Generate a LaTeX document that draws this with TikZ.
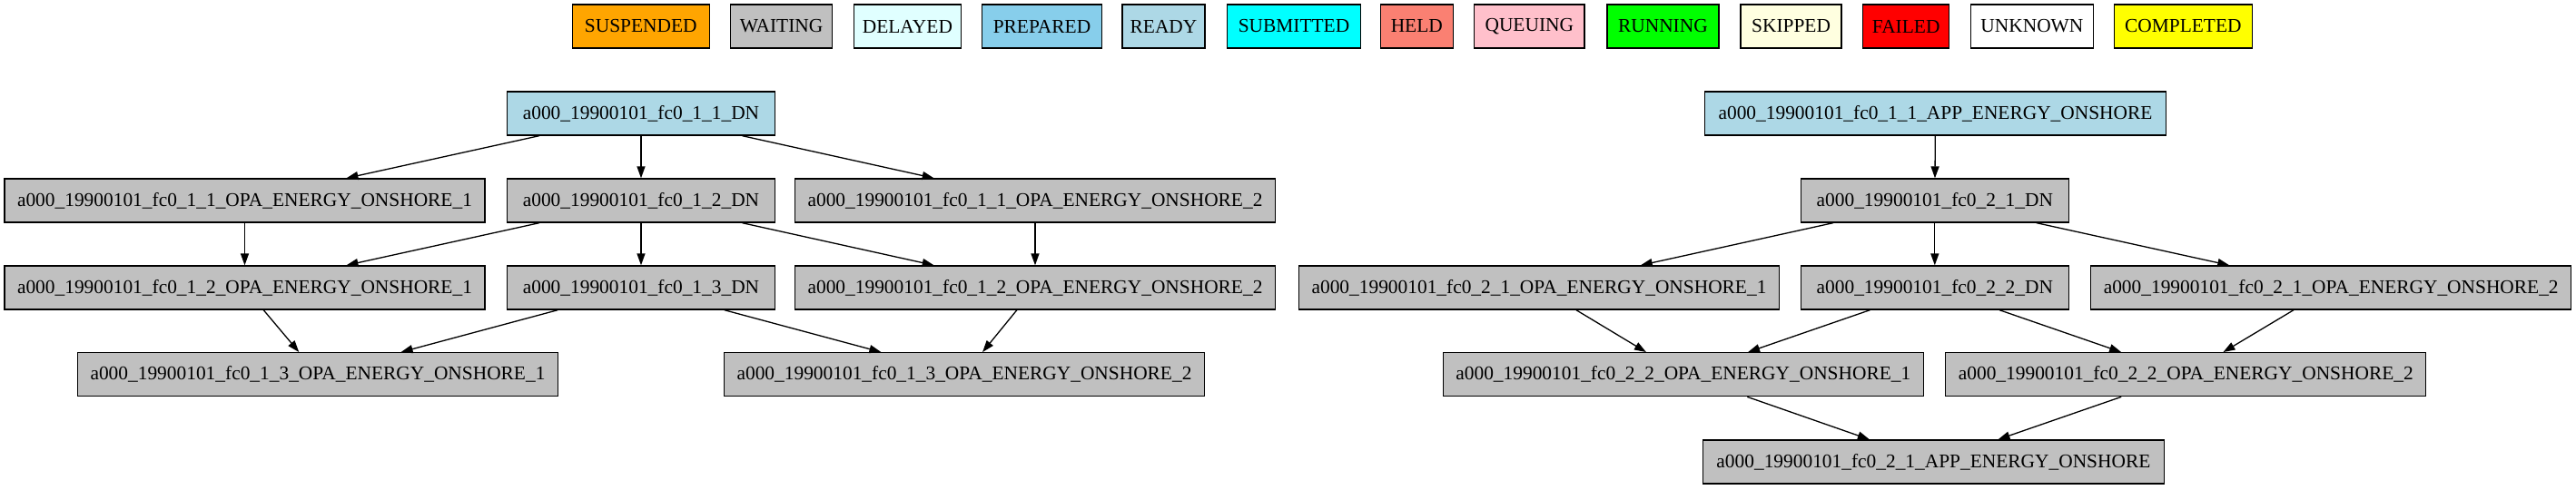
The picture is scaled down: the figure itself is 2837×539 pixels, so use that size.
\documentclass[tikz,border=0pt]{standalone}
\usepackage{fontspec}
\setmainfont{Liberation Serif}
\usetikzlibrary{arrows.meta}
\definecolor{cSusp}{HTML}{FFA500}
\definecolor{cWait}{HTML}{C0C0C0}
\definecolor{cDelay}{HTML}{E0FFFF}
\definecolor{cPrep}{HTML}{87CEEB}
\definecolor{cReady}{HTML}{ADD8E6}
\definecolor{cSubm}{HTML}{00FFFF}
\definecolor{cHeld}{HTML}{FA8072}
\definecolor{cQueue}{HTML}{FFC0CB}
\definecolor{cRun}{HTML}{00FF00}
\definecolor{cSkip}{HTML}{FFFFE0}
\definecolor{cFail}{HTML}{FF0000}
\definecolor{cUnk}{HTML}{FFFFFF}
\definecolor{cComp}{HTML}{FFFF00}
\begin{document}
\begin{tikzpicture}[x=1pt,y=-1pt,
  box/.style={draw=black,line width=1.3pt,rectangle,minimum height=48pt,inner xsep=4pt,inner ysep=0pt,
    font=\fontsize{21.4}{25}\selectfont,anchor=center},
  legbox/.style={box,minimum width=#1},
  dnbox/.style={box,minimum width=295pt},
  opabox/.style={box,minimum width=529pt},
  appbox/.style={box,minimum width=508pt},
  edge/.style={line width=1.3pt,-{Triangle[length=13pt,width=9pt]}}]
\useasboundingbox (0,0) rectangle (2837,539);
% legend
\node[legbox=151pt,fill=cSusp] (lsusp) at (705.8,29) {SUSPENDED};
\node[legbox=111.4pt,fill=cWait] (lwait) at (860.5,29) {WAITING};
\node[legbox=118.2pt,fill=cDelay] (ldel) at (999.4,29) {DELAYED};
\node[legbox=132pt,fill=cPrep] (lprep) at (1147.5,29) {PREPARED};
\node[legbox=91.2pt,fill=cReady] (lready) at (1281.5,29) {READY};
\node[legbox=146.4pt,fill=cSubm] (lsubm) at (1425,29) {SUBMITTED};
\node[legbox=79.7pt,fill=cHeld] (lheld) at (1560.3,29) {HELD};
\node[legbox=121.2pt,fill=cQueue] (lqueue) at (1684.3,29) {QUEUING};
\node[legbox=123.1pt,fill=cRun] (lrun) at (1831.4,29) {RUNNING};
\node[legbox=111pt,fill=cSkip] (lskip) at (1972.6,29) {SKIPPED};
\node[legbox=95pt,fill=cFail] (lfail) at (2099.2,29) {FAILED};
\node[legbox=135.2pt,fill=cUnk] (lunk) at (2237.9,29) {UNKNOWN};
\node[legbox=151.8pt,fill=cComp] (lcomp) at (2404.3,29) {COMPLETED};
% left graph
\node[dnbox,fill=cReady] (a11dn) at (706,125) {a000\_19900101\_fc0\_1\_1\_DN};
\node[opabox,fill=cWait] (a11o1) at (269.5,221) {a000\_19900101\_fc0\_1\_1\_OPA\_ENERGY\_ONSHORE\_1};
\node[dnbox,fill=cWait] (a12dn) at (706,221) {a000\_19900101\_fc0\_1\_2\_DN};
\node[opabox,fill=cWait] (a11o2) at (1140,221) {a000\_19900101\_fc0\_1\_1\_OPA\_ENERGY\_ONSHORE\_2};
\node[opabox,fill=cWait] (a12o1) at (269.5,317) {a000\_19900101\_fc0\_1\_2\_OPA\_ENERGY\_ONSHORE\_1};
\node[dnbox,fill=cWait] (a13dn) at (706,317) {a000\_19900101\_fc0\_1\_3\_DN};
\node[opabox,fill=cWait] (a12o2) at (1140,317) {a000\_19900101\_fc0\_1\_2\_OPA\_ENERGY\_ONSHORE\_2};
\node[opabox,fill=cWait] (a13o1) at (350,412.7) {a000\_19900101\_fc0\_1\_3\_OPA\_ENERGY\_ONSHORE\_1};
\node[opabox,fill=cWait] (a13o2) at (1062,412.7) {a000\_19900101\_fc0\_1\_3\_OPA\_ENERGY\_ONSHORE\_2};
% right graph
\node[appbox,fill=cReady] (a11app) at (2131.5,125) {a000\_19900101\_fc0\_1\_1\_APP\_ENERGY\_ONSHORE};
\node[dnbox,fill=cWait] (a21dn) at (2130.8,221) {a000\_19900101\_fc0\_2\_1\_DN};
\node[opabox,fill=cWait] (a21o1) at (1695,317) {a000\_19900101\_fc0\_2\_1\_OPA\_ENERGY\_ONSHORE\_1};
\node[dnbox,fill=cWait] (a22dn) at (2130.8,317) {a000\_19900101\_fc0\_2\_2\_DN};
\node[opabox,fill=cWait] (a21o2) at (2567.2,317) {a000\_19900101\_fc0\_2\_1\_OPA\_ENERGY\_ONSHORE\_2};
\node[opabox,fill=cWait] (a22o1) at (1853.8,412.7) {a000\_19900101\_fc0\_2\_2\_OPA\_ENERGY\_ONSHORE\_1};
\node[opabox,fill=cWait] (a22o2) at (2407.3,412.7) {a000\_19900101\_fc0\_2\_2\_OPA\_ENERGY\_ONSHORE\_2};
\node[appbox,fill=cWait] (a21app) at (2129.4,509) {a000\_19900101\_fc0\_2\_1\_APP\_ENERGY\_ONSHORE};
% edges left
\draw[edge] (a11dn) -- (a11o1);
\draw[edge] (a11dn) -- (a12dn);
\draw[edge] (a11dn) -- (a11o2);
\draw[edge] (a11o1) -- (a12o1);
\draw[edge] (a12dn) -- (a12o1);
\draw[edge] (a12dn) -- (a13dn);
\draw[edge] (a12dn) -- (a12o2);
\draw[edge] (a11o2) -- (a12o2);
\draw[edge] (a12o1) -- (a13o1);
\draw[edge] (a13dn) -- (a13o1);
\draw[edge] (a13dn) -- (a13o2);
\draw[edge] (a12o2) -- (a13o2);
% edges right
\draw[edge] (a11app) -- (a21dn);
\draw[edge] (a21dn) -- (a21o1);
\draw[edge] (a21dn) -- (a22dn);
\draw[edge] (a21dn) -- (a21o2);
\draw[edge] (a21o1) -- (a22o1);
\draw[edge] (a22dn) -- (a22o1);
\draw[edge] (a22dn) -- (a22o2);
\draw[edge] (a21o2) -- (a22o2);
\draw[edge] (a22o1) -- (a21app);
\draw[edge] (a22o2) -- (a21app);
\end{tikzpicture}
\end{document}
